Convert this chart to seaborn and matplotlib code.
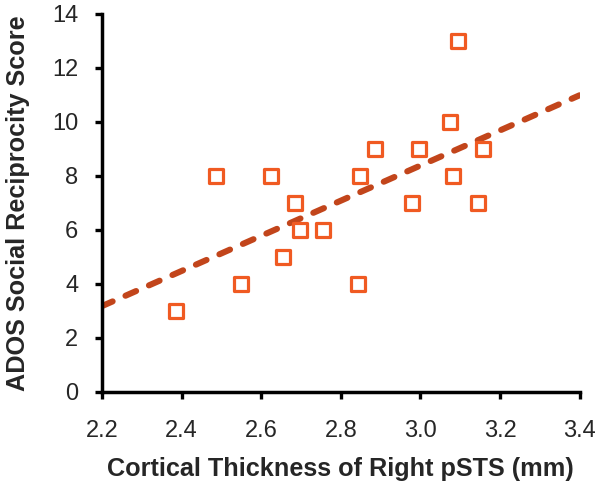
import matplotlib
matplotlib.use("Agg")
import matplotlib.pyplot as plt
import seaborn as sns
import pandas as pd

thickness = [2.385, 2.486, 2.548, 2.625, 2.655, 2.686, 2.698, 2.756, 2.843,
             2.847, 2.886, 2.980, 2.997, 3.075, 3.081, 3.094, 3.145, 3.158]
ados = [3, 8, 4, 8, 5, 7, 6, 6, 4, 8, 9, 7, 9, 10, 8, 13, 7, 9]
x_ticks = [2.2, 2.4, 2.6, 2.8, 3.0, 3.2, 3.4]
y_ticks = [0, 2, 4, 6, 8, 10, 12, 14]

df = pd.DataFrame({"x": thickness, "y": ados})

sns.set_style("white")
plt.rcParams["font.family"] = ["Liberation Sans", "DejaVu Sans"]

fig = plt.figure(figsize=(6.0, 4.93), dpi=100)
ax = fig.add_axes([0.170, 0.205, 0.796, 0.767])
ax.set_xlim(2.2, 3.4)
ax.set_ylim(0, 14)

sns.regplot(data=df, x="x", y="y", ax=ax, scatter=False, ci=None,
            truncate=False,
            line_kws=dict(color="#C2451B", lw=4.4, ls=(0, (1.9, 2.3)),
                          dash_capstyle="round", solid_capstyle="round"))
sns.scatterplot(data=df, x="x", y="y", ax=ax, marker="s", s=95,
                facecolor="white", edgecolor="#F05A22", linewidth=2.3,
                zorder=3)

ax.set_xlim(2.2, 3.4)
ax.set_ylim(0, 14)
ax.set_xticks(x_ticks)
ax.set_xticklabels([f"{v:.1f}" for v in x_ticks])
ax.set_yticks(y_ticks)
ax.set_yticklabels([str(v) for v in y_ticks])

for s in ["top", "right"]:
    ax.spines[s].set_visible(False)
for s in ["left", "bottom"]:
    ax.spines[s].set_linewidth(2.5)
    ax.spines[s].set_color("black")

ax.tick_params(axis="both", which="major", direction="out", length=5,
               width=2.4, color="black", labelsize=17,
               bottom=True, left=True)
ax.tick_params(axis="x", pad=15)
ax.tick_params(axis="y", pad=12)

ax.set_xlabel("Cortical Thickness of Right pSTS (mm)", fontsize=18.2,
              fontweight="bold", labelpad=11)
ax.set_ylabel("ADOS Social Reciprocity Score", fontsize=18.2,
              fontweight="bold", labelpad=16)

fig.savefig("out.png", dpi=100)
